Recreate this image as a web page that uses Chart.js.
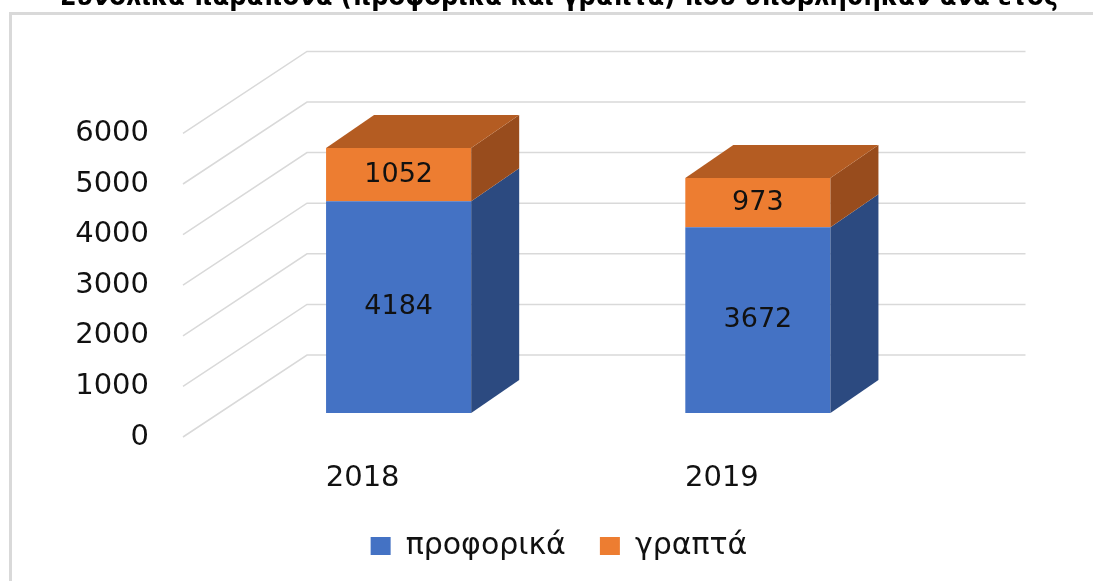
<!DOCTYPE html>
<html>
<head>
<meta charset="utf-8">
<script src="https://cdn.jsdelivr.net/npm/chart.js@4.4.1/dist/chart.umd.min.js"></script>
<style>
html, body { margin: 0; padding: 0; width: 1093px; height: 581px; overflow: hidden; background: #fff; }
body { position: relative; }
#frame { position: absolute; left: 9px; top: 12px; width: 1200px; height: 700px; border: 3px solid #d9d9d9; }
#chart { position: absolute; left: 0; top: -24px; }
</style>
</head>
<body>
<div id="frame"></div>
<canvas id="chart" width="1093" height="605"></canvas>
<script>
var years = ['2018', '2019'];
var oral = [4184, 3672];
var written = [1052, 973];
var yTicks = [0, 1000, 2000, 3000, 4000, 5000, 6000];

var frontColors = ['#4472c4', '#ed7d31'];
var sideColors = ['#2c4a80', '#984c1d'];
var topColor = '#b45c22';

// 3d offsets (px): bar front face, bar depth, back wall
var shift = { x: 36, y: -24 };
var depth = { x: 48, y: -33 };
var wall = { x: 124, y: -82 };

var box3d = {
    id: 'box3d',
    beforeDatasetsDraw: function(chart) {
        var ctx = chart.ctx;
        var a = chart.chartArea;
        var y = chart.scales.y;
        ctx.save();
        ctx.strokeStyle = '#d9d9d9';
        ctx.lineWidth = 1.5;
        y.ticks.forEach(function(t) {
            var py = y.getPixelForValue(t.value);
            ctx.beginPath();
            ctx.moveTo(a.left, py);
            ctx.lineTo(a.left + wall.x, py + wall.y);
            ctx.lineTo(a.right + wall.x, py + wall.y);
            ctx.stroke();
        });
        ctx.restore();
        ctx.save();
        ctx.translate(shift.x, shift.y);
    },
    afterDatasetsDraw: function(chart) {
        var ctx = chart.ctx;
        var last = chart.data.datasets.length - 1;
        chart.data.datasets.forEach(function(ds, i) {
            chart.getDatasetMeta(i).data.forEach(function(bar) {
                var p = bar.getProps(['x', 'y', 'base', 'width'], true);
                var l = p.x - p.width / 2;
                var r = p.x + p.width / 2;
                ctx.fillStyle = sideColors[i];
                ctx.beginPath();
                ctx.moveTo(r, p.y);
                ctx.lineTo(r + depth.x, p.y + depth.y);
                ctx.lineTo(r + depth.x, p.base + depth.y);
                ctx.lineTo(r, p.base);
                ctx.closePath();
                ctx.fill();
                if (i === last) {
                    ctx.fillStyle = topColor;
                    ctx.beginPath();
                    ctx.moveTo(l, p.y);
                    ctx.lineTo(l + depth.x, p.y + depth.y);
                    ctx.lineTo(r + depth.x, p.y + depth.y);
                    ctx.lineTo(r, p.y);
                    ctx.closePath();
                    ctx.fill();
                }
            });
        });
        ctx.fillStyle = '#111';
        ctx.font = '27px "DejaVu Sans"';
        ctx.textAlign = 'center';
        ctx.textBaseline = 'middle';
        chart.data.datasets.forEach(function(ds, i) {
            chart.getDatasetMeta(i).data.forEach(function(bar, j) {
                var p = bar.getProps(['x', 'y', 'base'], true);
                ctx.fillText(ds.data[j], p.x, (p.y + p.base) / 2);
            });
        });
        ctx.restore();
    }
};

new Chart(document.getElementById('chart'), {
    type: 'bar',
    data: {
        labels: years,
        datasets: [
            { label: 'προφορικά', data: oral, backgroundColor: frontColors[0], borderWidth: 0 },
            { label: 'γραπτά', data: written, backgroundColor: frontColors[1], borderWidth: 0 }
        ]
    },
    options: {
        responsive: false,
        animation: false,
        devicePixelRatio: 1,
        barPercentage: 0.404,
        categoryPercentage: 1,
        layout: { padding: { left: 25, right: 0, top: 0, bottom: 10 } },
        scales: {
            x: {
                stacked: true,
                grid: { display: false, drawTicks: false },
                border: { display: false },
                ticks: { color: '#111', font: { family: 'DejaVu Sans', size: 29 }, padding: 24 },
                afterFit: function(s) { s.height = 60; }
            },
            y: {
                stacked: true,
                min: 0,
                max: 6000,
                grid: { display: false, drawTicks: false },
                border: { display: false },
                ticks: {
                    color: '#111',
                    font: { family: 'DejaVu Sans', size: 29 },
                    padding: 34,
                    callback: function(v) { return String(v); }
                },
                afterBuildTicks: function(s) { s.ticks = yTicks.map(function(v) { return { value: v }; }); },
                afterFit: function(s) { s.width = 158; }
            },
            yRight: {
                position: 'right',
                display: true,
                grid: { display: false, drawTicks: false },
                border: { display: false },
                ticks: { display: false },
                afterFit: function(s) { s.width = 191.5; }
            }
        },
        plugins: {
            title: {
                display: true,
                text: 'Συνολικά παράπονα (προφορικά και γραπτά) που υποβλήθηκαν ανά έτος',
                color: '#000',
                font: { family: '"Liberation Sans Narrow", "DejaVu Sans Condensed", sans-serif', size: 27, weight: 'bold' },
                padding: { top: 6, bottom: 119 }
            },
            legend: {
                position: 'bottom',
                labels: { color: '#111', font: { family: 'DejaVu Sans', size: 30 }, boxWidth: 20, boxHeight: 18, padding: 34 }
            },
            tooltip: { enabled: false }
        }
    },
    plugins: [box3d]
});
</script>
</body>
</html>
